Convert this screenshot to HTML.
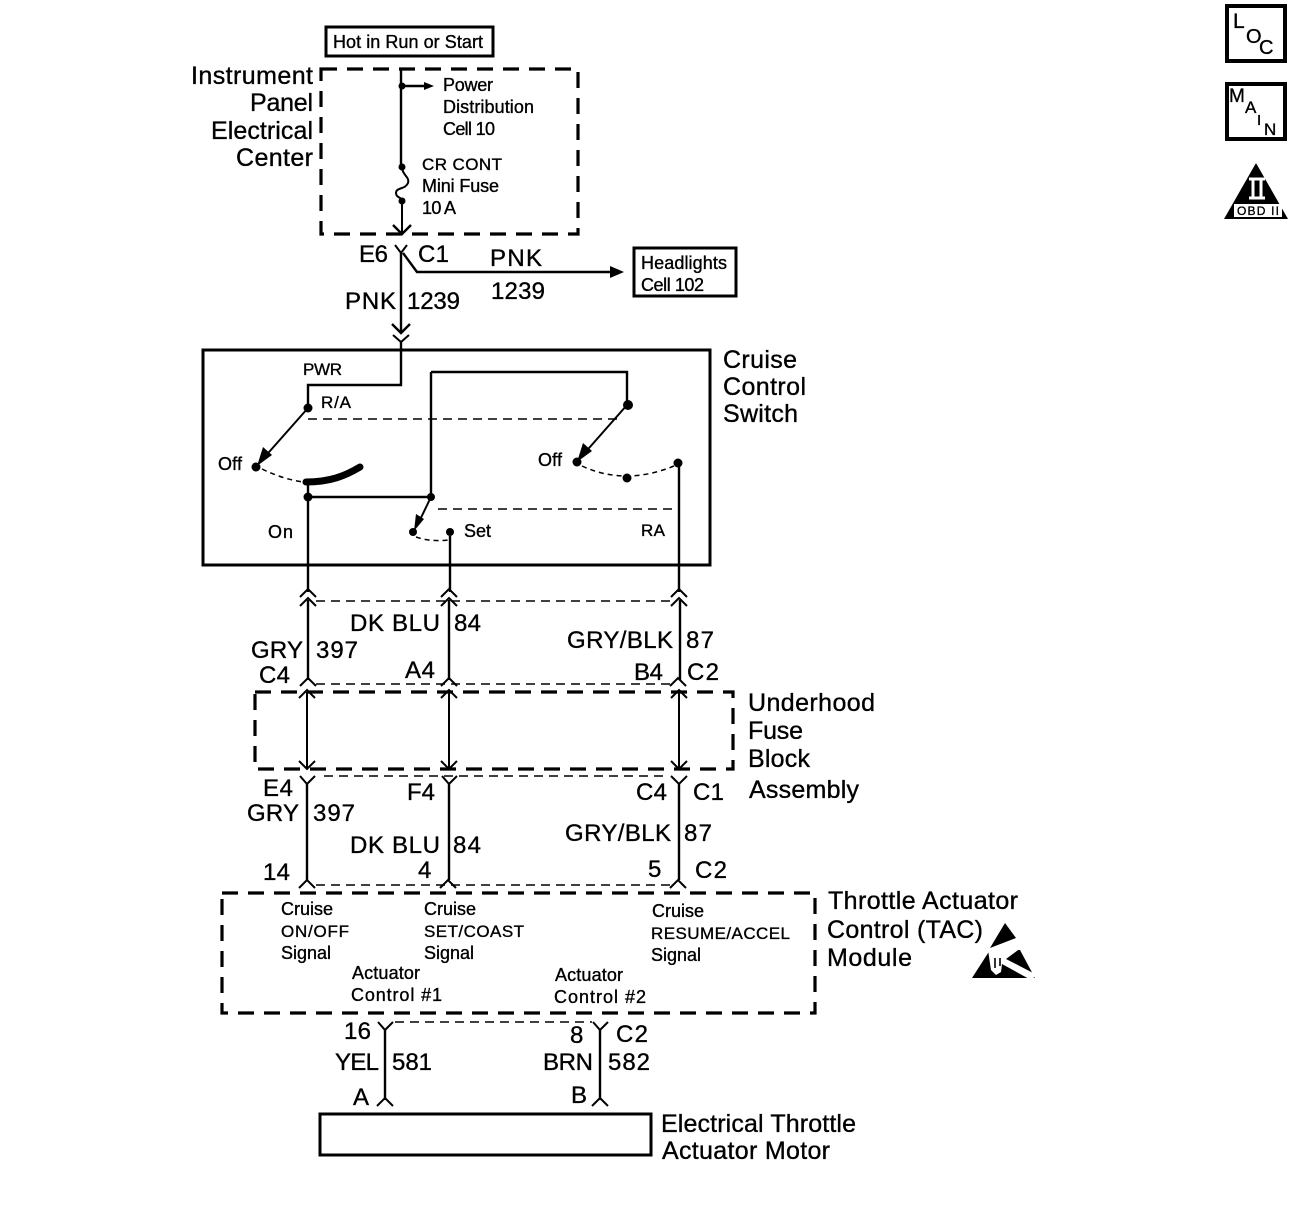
<!DOCTYPE html>
<html><head><meta charset="utf-8"><style>
html,body{margin:0;padding:0;background:#fff}
svg{display:block}
text{font-family:"Liberation Sans",sans-serif;fill:#000;stroke:#000;stroke-width:.35}
.b{font-size:24px}.l{font-size:25px}.s{font-size:18px}.k{font-size:17px}
.w{fill:none;stroke:#000;stroke-width:2.4}
.c{fill:none;stroke:#000;stroke-width:2}
.d{fill:none;stroke:#000;stroke-width:3.2;stroke-dasharray:16 10}
.t{fill:none;stroke:#000;stroke-width:1.6;stroke-dasharray:9 6}
.r{fill:none;stroke:#000;stroke-width:3}
</style></head><body>
<svg width="1312" height="1210" viewBox="0 0 1312 1210" xmlns="http://www.w3.org/2000/svg">
<defs>
<path id="up" d="M-8 6L0 -2L8 6" fill="none" stroke="#000" stroke-width="2"/>
<path id="dn" d="M-8 -6L0 2L8 -6" fill="none" stroke="#000" stroke-width="2"/>
<path id="ah" d="M-9 -9L0 0L9 -9" fill="none" stroke="#000" stroke-width="2.4"/>
</defs>

<!-- top -->
<rect class="r" x="326" y="27" width="167" height="29"/>
<text class="s" x="333" y="48" textLength="150">Hot in Run or Start</text>
<rect class="d" x="321" y="69" width="257" height="165"/>
<text class="l" x="191" y="84" textLength="122">Instrument</text>
<text class="l" x="250" y="111" textLength="63">Panel</text>
<text class="l" x="211" y="139" textLength="102">Electrical</text>
<text class="l" x="236" y="166" textLength="77">Center</text>
<path class="w" d="M401 69V167M402 86H428"/>
<path d="M434 86L424 82V90Z"/>
<circle cx="402" cy="86" r="3.5"/><circle cx="402" cy="167" r="3.5"/><circle cx="402" cy="201" r="3.5"/>
<path class="c" d="M402 167C402 175 410 177 408 183C405 190 396 187 396 193C396 198 402 197 402 201V233"/>
<use href="#ah" x="402" y="234"/>
<text class="s" x="443" y="91" textLength="50">Power</text>
<text class="s" x="443" y="113" textLength="91">Distribution</text>
<text class="s" x="443" y="135" textLength="52">Cell 10</text>
<text class="k" x="422" y="170" textLength="80">CR CONT</text>
<text class="s" x="422" y="192" textLength="77">Mini Fuse</text>
<text class="s" x="422" y="214" textLength="34">10 A</text>

<text class="b" x="359" y="262" textLength="29">E6</text>
<text class="b" x="418" y="262" textLength="31">C1</text>
<path class="c" d="M395 245L401 253L407 245"/>
<path class="w" d="M401 253V332M403 253L417 272H615"/>
<path d="M624 272L610 266V278Z"/>
<use href="#ah" x="401" y="333"/>
<path class="c" d="M393 335L401 342L409 335"/>
<path class="w" d="M401 342V385H308V408"/>
<text class="b" x="490" y="266" textLength="52">PNK</text>
<text class="b" x="491" y="299" textLength="54">1239</text>
<text class="b" x="345" y="309" textLength="51">PNK</text>
<text class="b" x="407" y="309" textLength="53">1239</text>
<rect class="r" x="634" y="248" width="102" height="48"/>
<text class="s" x="641" y="269" textLength="86">Headlights</text>
<text class="s" x="641" y="291" textLength="63">Cell 102</text>

<!-- switch -->
<rect class="r" x="203" y="350" width="507" height="215"/>
<text class="l" x="723" y="368" textLength="74">Cruise</text>
<text class="l" x="723" y="395" textLength="83">Control</text>
<text class="l" x="723" y="422" textLength="75">Switch</text>
<text class="k" x="303" y="375" textLength="39">PWR</text>
<text class="k" x="321" y="408" textLength="30">R/A</text>
<text class="s" x="218" y="470" textLength="24">Off</text>
<text class="s" x="538" y="466" textLength="24">Off</text>
<text class="s" x="268" y="538" textLength="25">On</text>
<text class="s" x="464" y="537" textLength="27">Set</text>
<text class="k" x="641" y="536" textLength="24">RA</text>

<path class="w" d="M431 372H627V405M431 372V497M308 497H431"/>
<path class="c" d="M308 408L262 460M627 405L582 456M431 497L417 526"/>
<path d="M257 466L272 455L263 447Z"/>
<path d="M577 462L592 451L583 443Z"/>
<path d="M414 531L424 519L416 514Z"/>
<path d="M308 419H620M438 509H680" fill="none" stroke="#000" stroke-width="1.5" stroke-dasharray="9 6"/>
<path d="M262 469Q285 480 304 482M582 466Q625 486 674 466M416 537Q430 542 449 540" fill="none" stroke="#000" stroke-width="1.5" stroke-dasharray="5 4"/>
<path d="M306 482C330 482 345 476 360 467" fill="none" stroke="#000" stroke-width="7" stroke-linecap="round"/>
<circle cx="308" cy="408" r="4.5"/><circle cx="628" cy="405" r="5"/><circle cx="256" cy="467" r="4.5"/><circle cx="577" cy="462" r="4.5"/><circle cx="627" cy="478" r="4.5"/><circle cx="678" cy="463" r="4.5"/><circle cx="308" cy="497" r="4.5"/><circle cx="431" cy="497" r="4"/><circle cx="413" cy="532" r="4"/><circle cx="450" cy="532" r="4"/>
<path class="w" d="M308 482V592M450 536V592M679 463V592"/>

<!-- harness 1 -->
<g>
<use href="#up" x="308" y="591"/><use href="#up" x="449" y="591"/><use href="#up" x="679" y="591"/>
<use href="#up" x="308" y="600"/><use href="#up" x="449" y="600"/><use href="#up" x="679" y="600"/>
<path class="t" d="M316 601H672"/>
<path class="w" d="M308 600V680M449 600V680M680 600V680"/>
<use href="#up" x="308" y="680"/><use href="#up" x="449" y="680"/><use href="#up" x="678" y="680"/>
<path class="t" d="M316 684H670"/>
</g>
<text class="b" x="251" y="658" textLength="52">GRY</text>
<text class="b" x="316" y="658" textLength="42">397</text>
<text class="b" x="350" y="631" textLength="90">DK BLU</text>
<text class="b" x="454" y="631" textLength="27">84</text>
<text class="b" x="567" y="648" textLength="106">GRY/BLK</text>
<text class="b" x="686" y="648" textLength="28">87</text>
<text class="b" x="259" y="683" textLength="31">C4</text>
<text class="b" x="405" y="678" textLength="30">A4</text>
<text class="b" x="634" y="680" textLength="29">B4</text>
<text class="b" x="687" y="680" textLength="32">C2</text>

<!-- underhood -->
<rect class="d" x="255" y="692" width="478" height="77"/>
<path class="c" d="M307 692V768M449 692V768M679 692V768"/>
<use href="#up" x="307" y="692"/><use href="#up" x="449" y="692"/><use href="#up" x="679" y="692"/>
<use href="#dn" x="307" y="767"/><use href="#dn" x="449" y="767"/><use href="#dn" x="679" y="767"/>
<text class="l" x="748" y="711" textLength="127">Underhood</text>
<text class="l" x="748" y="739" textLength="55">Fuse</text>
<text class="l" x="748" y="767" textLength="62">Block</text>
<text class="l" x="749" y="798" textLength="110">Assembly</text>
<path class="t" d="M324 776H666"/>
<path class="c" d="M300 776L307 784L315 776M442 776L449 784L457 776M671 776L679 784L687 776"/>
<path class="w" d="M307 784V880M449 784V880M679 784V880"/>
<use href="#up" x="307" y="882"/><use href="#up" x="448" y="882"/><use href="#up" x="678" y="882"/>
<path class="t" d="M316 885H670"/>
<text class="b" x="263" y="796" textLength="30">E4</text>
<text class="b" x="407" y="800" textLength="28">F4</text>
<text class="b" x="636" y="800" textLength="31">C4</text>
<text class="b" x="693" y="800" textLength="31">C1</text>
<text class="b" x="247" y="821" textLength="52">GRY</text>
<text class="b" x="313" y="821" textLength="42">397</text>
<text class="b" x="350" y="853" textLength="90">DK BLU</text>
<text class="b" x="453" y="853" textLength="28">84</text>
<text class="b" x="565" y="841" textLength="106">GRY/BLK</text>
<text class="b" x="684" y="841" textLength="28">87</text>
<text class="b" x="263" y="880" textLength="27">14</text>
<text class="b" x="418" y="878" textLength="13">4</text>
<text class="b" x="648" y="877" textLength="14">5</text>
<text class="b" x="695" y="878" textLength="32">C2</text>

<!-- TAC -->
<rect class="d" x="222" y="893" width="593" height="120"/>
<text class="l" x="828" y="909" textLength="190">Throttle Actuator</text>
<text class="l" x="827" y="938" textLength="156">Control (TAC)</text>
<text class="l" x="827" y="966" textLength="85">Module</text>
<text class="s" x="281" y="915" textLength="52">Cruise</text>
<text class="k" x="281" y="937" textLength="68">ON/OFF</text>
<text class="s" x="281" y="959" textLength="50">Signal</text>
<text class="s" x="424" y="915" textLength="52">Cruise</text>
<text class="k" x="424" y="937" textLength="100">SET/COAST</text>
<text class="s" x="424" y="959" textLength="50">Signal</text>
<text class="s" x="652" y="917" textLength="52">Cruise</text>
<text class="k" x="651" y="939" textLength="139">RESUME/ACCEL</text>
<text class="s" x="651" y="961" textLength="50">Signal</text>
<text class="s" x="352" y="979" textLength="68">Actuator</text>
<text class="s" x="351" y="1001" textLength="91">Control #1</text>
<text class="s" x="555" y="981" textLength="68">Actuator</text>
<text class="s" x="554" y="1003" textLength="92">Control #2</text>
<!-- ESD symbol -->
<path d="M1005 923L1016 938L990 948Z"/>
<path d="M972 978L990 950H1020L1035 978Z"/>
<path d="M988 950L1021 948L1006 959L1037 975L1031 980L1002 964L1001 972L996 975L991 970Z" fill="#fff"/>
<path d="M995 958V968M1000 958V966" stroke="#000" stroke-width="1.6"/>

<!-- bottom -->
<path class="t" d="M395 1022H592"/>
<path class="c" d="M378 1022L385 1030L393 1022M593 1022L600 1030L608 1022"/>
<path class="w" d="M385 1030V1100M600 1030V1100"/>
<use href="#up" x="385" y="1100"/><use href="#up" x="600" y="1100"/>
<text class="b" x="344" y="1039" textLength="27">16</text>
<text class="b" x="570" y="1043" textLength="13">8</text>
<text class="b" x="616" y="1042" textLength="32">C2</text>
<text class="b" x="335" y="1070" textLength="44">YEL</text>
<text class="b" x="392" y="1070" textLength="40">581</text>
<text class="b" x="543" y="1070" textLength="50">BRN</text>
<text class="b" x="608" y="1070" textLength="42">582</text>
<text class="b" x="353" y="1105" textLength="17">A</text>
<text class="b" x="571" y="1103" textLength="15">B</text>
<rect class="r" x="320" y="1114" width="331" height="41"/>
<text class="l" x="661" y="1132" textLength="195">Electrical Throttle</text>
<text class="l" x="662" y="1159" textLength="168">Actuator Motor</text>

<!-- side icons -->
<rect x="1227" y="6" width="58" height="55" fill="none" stroke="#000" stroke-width="4"/>
<text x="1233" y="28" style="font-size:21px">L</text>
<text x="1246" y="43" style="font-size:20px">O</text>
<text x="1259" y="54" style="font-size:20px">C</text>
<rect x="1227" y="84" width="58" height="55" fill="none" stroke="#000" stroke-width="4"/>
<text x="1229" y="102" style="font-size:19px">M</text>
<text x="1245" y="113" style="font-size:17px">A</text>
<text x="1257" y="125" style="font-size:15px">I</text>
<text x="1264" y="135" style="font-size:17px">N</text>
<path d="M1256 163L1288 219H1224Z"/>
<rect x="1234" y="204" width="48" height="13" fill="#fff"/>
<path d="M1249 179H1265M1249 198H1265M1253 179V198M1261 179V198" stroke="#fff" stroke-width="3" fill="none"/>
<text x="1237" y="215" style="font-size:12px" textLength="42">OBD II</text>
</svg>
</body></html>
